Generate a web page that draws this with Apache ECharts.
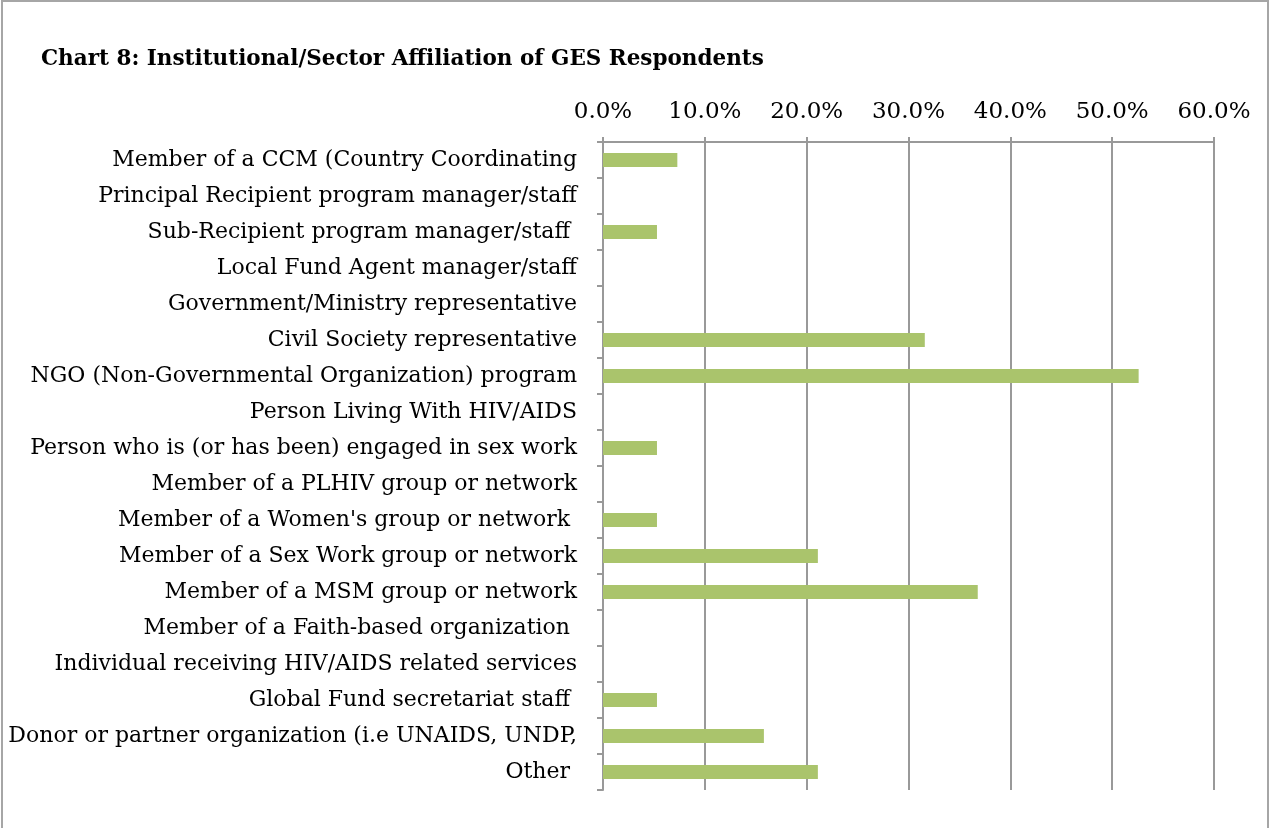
<!DOCTYPE html>
<html>
<head>
<meta charset="utf-8">
<script src="https://cdn.jsdelivr.net/npm/echarts@6/dist/echarts.min.js"></script>
<style>
  html, body { margin: 0; padding: 0; background: #fff; }
  #frame {
    position: absolute; left: 1px; top: 0; width: 1268px; height: 840px;
    border: 2px solid #a6a6a6; box-sizing: border-box;
  }
  #chart { position: absolute; left: 0; top: 0; width: 1272px; height: 828px; }
</style>
</head>
<body>
<div id="frame"></div>
<div id="chart"></div>
<script>
// categories top to bottom
const categories = [
  'Member of a CCM (Country Coordinating',
  'Principal Recipient program manager/staff',
  'Sub-Recipient program manager/staff ',
  'Local Fund Agent manager/staff',
  'Government/Ministry representative',
  'Civil Society representative',
  'NGO (Non-Governmental Organization) program',
  'Person Living With HIV/AIDS',
  'Person who is (or has been) engaged in sex work',
  'Member of a PLHIV group or network',
  "Member of a Women's group or network ",
  'Member of a Sex Work group or network',
  'Member of a MSM group or network',
  'Member of a Faith-based organization ',
  'Individual receiving HIV/AIDS related services',
  'Global Fund secretariat staff ',
  'Donor or partner organization (i.e UNAIDS, UNDP,',
  'Other '
];
// percent values
const values = [7.3, 0, 5.3, 0, 0, 31.6, 52.6, 0, 5.3, 0, 5.3, 21.1, 36.8, 0, 0, 5.3, 15.8, 21.1];
const xTicks = [0, 10, 20, 30, 40, 50, 60];

const font = 'DejaVu Serif';
const chart = echarts.init(document.getElementById('chart'));
chart.setOption({
  animation: false,
  title: {
    text: 'Chart 8: Institutional/Sector Affiliation of GES Respondents',
    left: 36, top: 43,
    textStyle: { fontFamily: font, fontSize: 21.5, fontWeight: 'bold', color: '#000' }
  },
  grid: { left: 603, right: 58, top: 142, bottom: 38, containLabel: false },
  xAxis: {
    type: 'value', position: 'top',
    min: xTicks[0], max: xTicks[xTicks.length - 1], interval: 10,
    axisLine: { show: true, lineStyle: { color: '#999', width: 2 } },
    axisTick: { show: true, inside: false, length: 5, lineStyle: { color: '#999', width: 2 } },
    splitLine: { show: true, lineStyle: { color: '#999', width: 2 } },
    axisLabel: {
      margin: 18, fontFamily: font, fontSize: 23, color: '#000',
      formatter: v => v.toFixed(1) + '%'
    }
  },
  yAxis: {
    type: 'category', inverse: true, data: categories,
    axisLine: { show: true, lineStyle: { color: '#999', width: 2 } },
    axisTick: { show: true, length: 6, lineStyle: { color: '#999', width: 2 } },
    axisLabel: { margin: 26, fontFamily: font, fontSize: 22, color: '#000' }
  },
  series: [{
    type: 'bar', data: values, barWidth: 14,
    itemStyle: { color: '#aac46c' }
  }]
});
</script>
</body>
</html>
